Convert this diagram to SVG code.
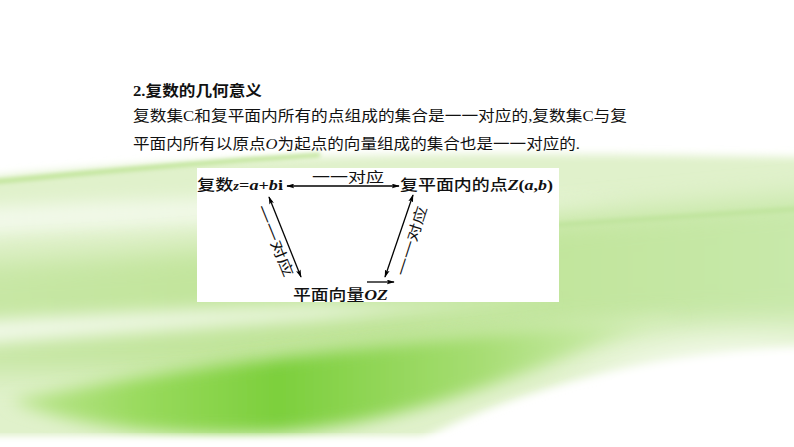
<svg xmlns="http://www.w3.org/2000/svg" width="794" height="447" viewBox="0 0 794 447">
<defs>
  <filter id="b4" x="-20%" y="-20%" width="140%" height="140%"><feGaussianBlur stdDeviation="4"/></filter>
  <filter id="b8" x="-20%" y="-60%" width="140%" height="220%"><feGaussianBlur stdDeviation="8"/></filter>
  <filter id="b14" x="-20%" y="-40%" width="140%" height="180%"><feGaussianBlur stdDeviation="14"/></filter>
  <filter id="b22" x="-30%" y="-60%" width="160%" height="220%"><feGaussianBlur stdDeviation="22"/></filter>
  <filter id="b2" x="-10%" y="-200%" width="120%" height="500%"><feGaussianBlur stdDeviation="2"/></filter>
  <linearGradient id="gBright" x1="0" y1="0" x2="1" y2="0">
    <stop offset="0" stop-color="#bfe694"/>
    <stop offset="0.2" stop-color="#98da5c"/>
    <stop offset="0.4" stop-color="#7ccf3c"/>
    <stop offset="0.7" stop-color="#a6dd72"/>
    <stop offset="1" stop-color="#dcf1c4"/>
  </linearGradient>
  <linearGradient id="gMid" x1="0" y1="0" x2="1" y2="0">
    <stop offset="0" stop-color="#c8e7a6"/>
    <stop offset="0.5" stop-color="#bde394"/>
    <stop offset="1" stop-color="#c9e9ac"/>
  </linearGradient>
  <linearGradient id="gStreak" x1="0" y1="0" x2="1" y2="0">
    <stop offset="0" stop-color="#f2f9ea" stop-opacity="1"/>
    <stop offset="0.6" stop-color="#f2f9ea" stop-opacity="0.8"/>
    <stop offset="1" stop-color="#f2f9ea" stop-opacity="0"/>
  </linearGradient>
  <marker id="ah" viewBox="0 0 10 6" refX="9" refY="3" markerWidth="8" markerHeight="5" orient="auto-start-reverse" markerUnits="userSpaceOnUse">
    <path d="M0,0 L10,3 L0,6 L2,3 Z" fill="#000"/>
  </marker>
  <style>
    .t { font-family: "Liberation Serif", "Noto Sans CJK SC", serif; fill: #111; }
    .body { font-size: 15px; }
    .node { font-size: 15px; font-weight: 500; }
    .lat { font-weight: bold; font-style: italic; }
    .lbl { font-size: 14px; }
    .it { font-style: italic; }
    .conn { stroke: #000; stroke-width: 1.3; fill: none; }
  </style>
</defs>

<g id="background">
  <rect width="794" height="447" fill="#ffffff"/>
  <path d="M-40,180 C200,154 450,150 840,158 L840,345 C650,352 520,388 420,440 L-40,440 Z" fill="#e0f1cb" filter="url(#b4)"/>
  <path d="M-40,208 C200,196 420,190 640,196 L640,212 C420,214 200,224 -40,236 Z" fill="url(#gStreak)" filter="url(#b8)"/>
  <path d="M-40,262 C250,250 520,222 840,192 L840,322 C600,320 420,342 220,374 L-40,374 Z" fill="url(#gMid)" filter="url(#b14)"/>
  <path d="M-40,322 C120,312 300,304 560,296 L560,306 C300,320 120,334 -40,346 Z" fill="url(#gStreak)" filter="url(#b8)"/>
  <path d="M10,400 C160,370 340,345 680,316 C540,362 430,422 280,432 C160,438 60,424 10,400 Z" fill="url(#gBright)" filter="url(#b8)"/>
  <path d="M-20,183 C100,172 200,162 320,155" stroke="#bce392" stroke-width="4" fill="none" filter="url(#b2)"/>
  <path d="M540,226 C650,219 720,214 840,206" stroke="#bde39a" stroke-width="4" fill="none" filter="url(#b2)"/>
  <ellipse cx="745" cy="428" rx="175" ry="78" fill="#ffffff" filter="url(#b22)"/>
  <rect x="-20" y="437" width="834" height="20" fill="#ffffff" filter="url(#b4)"/>
</g>

<g id="intro">
  <text class="t body" x="133" y="96" font-weight="bold" textLength="129" lengthAdjust="spacingAndGlyphs">2.复数的几何意义</text>
  <text class="t body" x="133" y="121" textLength="494" lengthAdjust="spacingAndGlyphs">复数集C和复平面内所有的点组成的集合是一一对应的,复数集C与复</text>
  <text class="t body" x="133" y="149" textLength="447" lengthAdjust="spacingAndGlyphs">平面内所有以原点<tspan class="it">O</tspan>为起点的向量组成的集合也是一一对应的.</text>
</g>

<rect id="panel" x="197" y="168" width="362" height="134" fill="#ffffff"/>

<g id="node-complex">
  <text class="t node" x="197" y="190" textLength="86" lengthAdjust="spacingAndGlyphs">复数<tspan class="lat" font-size="12">z</tspan><tspan font-weight="bold">=</tspan><tspan class="lat">a</tspan><tspan font-weight="bold">+</tspan><tspan class="lat">b</tspan><tspan font-weight="bold">i</tspan></text>
</g>
<g id="node-point">
  <text class="t node" x="400" y="190" textLength="153" lengthAdjust="spacingAndGlyphs">复平面内的点<tspan class="lat">Z</tspan><tspan font-weight="bold">(</tspan><tspan class="lat">a</tspan><tspan font-weight="bold">,</tspan><tspan class="lat">b</tspan><tspan font-weight="bold">)</tspan></text>
</g>
<g id="node-vector">
  <text class="t node" x="293" y="300" textLength="95" lengthAdjust="spacingAndGlyphs">平面向量<tspan class="lat">OZ</tspan></text>
  <line class="conn" x1="367" y1="282" x2="394" y2="282" marker-end="url(#ah)"/>
</g>

<g id="connectors">
  <line class="conn" x1="287" y1="186" x2="399" y2="186" marker-start="url(#ah)" marker-end="url(#ah)"/>
  <line class="conn" x1="269" y1="197" x2="301" y2="277" marker-start="url(#ah)" marker-end="url(#ah)"/>
  <line class="conn" x1="413" y1="195" x2="385" y2="277" marker-start="url(#ah)" marker-end="url(#ah)"/>
  <text class="t lbl" x="348" y="177" text-anchor="middle" dominant-baseline="central" textLength="72" lengthAdjust="spacingAndGlyphs">一一对应</text>
  <text class="t lbl" x="0" y="0" text-anchor="middle" dominant-baseline="central" textLength="76" lengthAdjust="spacingAndGlyphs" transform="translate(274.5,241) rotate(68)">一一对应</text>
  <text class="t lbl" x="0" y="0" text-anchor="middle" dominant-baseline="central" textLength="72" lengthAdjust="spacingAndGlyphs" transform="translate(412,241) rotate(-72)">一一对应</text>
</g>
</svg>
